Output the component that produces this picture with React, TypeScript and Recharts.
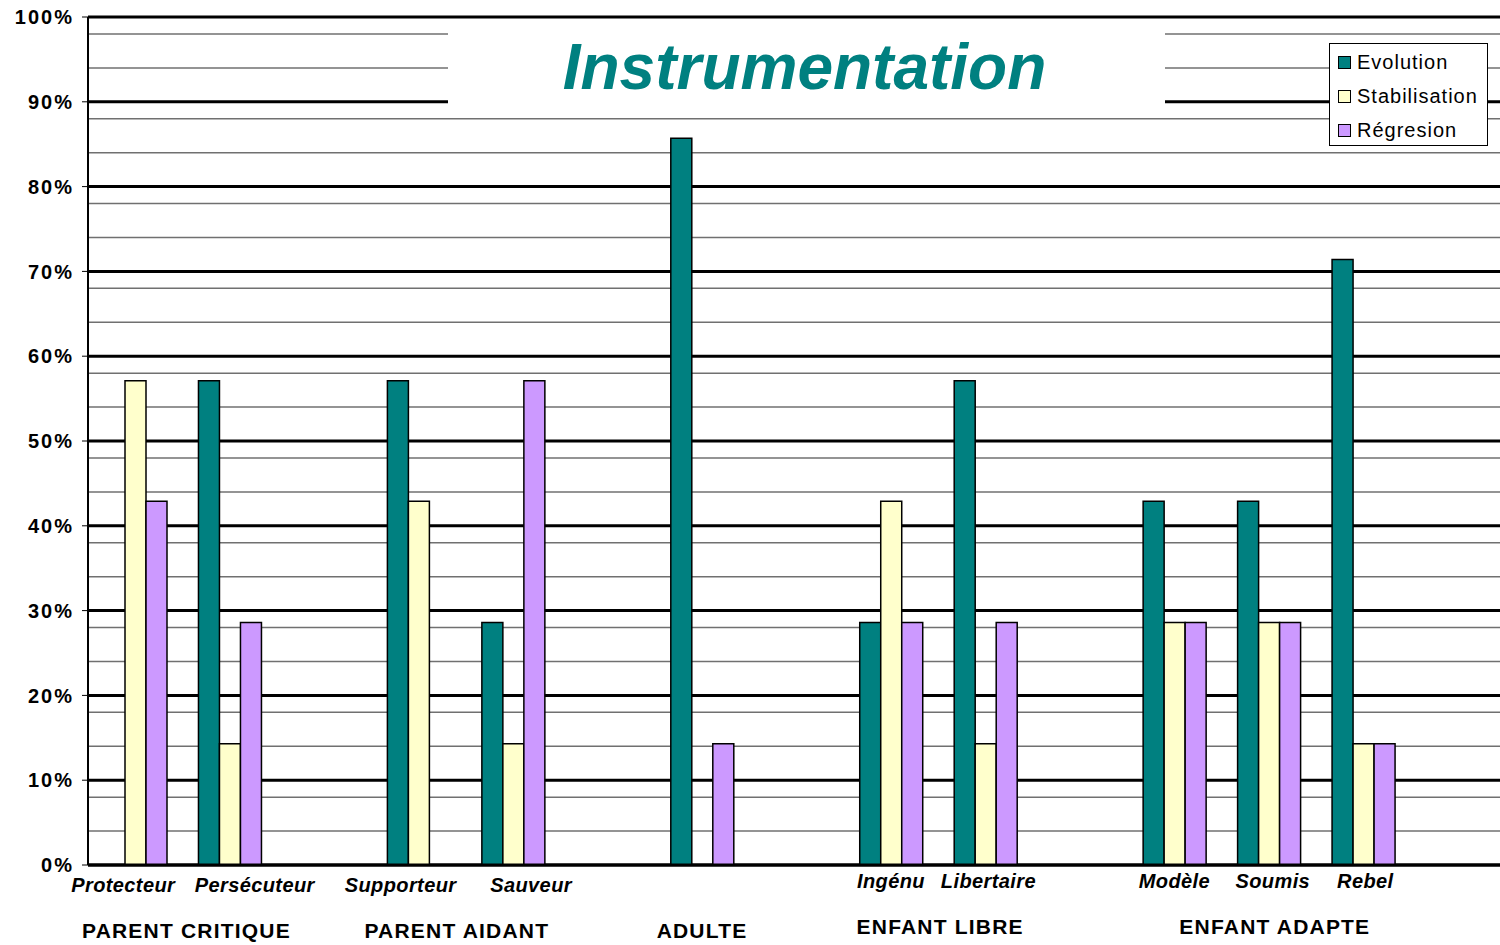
import { BarChart, Bar, XAxis, YAxis, CartesianGrid, Legend } from "recharts";

const categories = [
  "Protecteur", "Persécuteur", "", "Supporteur", "Sauveur", "", "", "",
  "Ingénu", "Libertaire", "", "Modèle", "Soumis", "Rebel", "",
];
const evolution = [0, 57.1, null, 57.1, 28.6, null, 85.7, null, 28.6, 57.1, null, 42.9, 42.9, 71.4, null];
const stabilisation = [57.1, 14.3, null, 42.9, 14.3, null, 0, null, 42.9, 14.3, null, 28.6, 28.6, 14.3, null];
const regression = [42.9, 28.6, null, 0, 57.1, null, 14.3, null, 28.6, 28.6, null, 28.6, 28.6, 14.3, null];

const groups = [
  { label: "PARENT CRITIQUE", first: 0, last: 1 },
  { label: "PARENT AIDANT", first: 3, last: 4 },
  { label: "ADULTE", first: 6, last: 6 },
  { label: "ENFANT LIBRE", first: 8, last: 9 },
  { label: "ENFANT ADAPTE", first: 11, last: 13 },
];

const majorTicks = [0, 10, 20, 30, 40, 50, 60, 70, 80, 90, 100];
const minorTicks = [
  2, 4, 6, 8, 12, 14, 16, 18, 22, 24, 26, 28, 32, 34, 36, 38, 42, 44, 46, 48,
  52, 54, 56, 58, 62, 64, 66, 68, 72, 74, 76, 78, 82, 84, 86, 88, 92, 94, 96, 98,
];

const series = [
  { key: "evolution", name: "Evolution", color: "#008080" },
  { key: "stabilisation", name: "Stabilisation", color: "#FFFFCC" },
  { key: "regression", name: "Régresion", color: "#CC99FF" },
];

const data = categories.map((name, i) => ({
  name,
  evolution: evolution[i],
  stabilisation: stabilisation[i],
  regression: regression[i],
}));

const FONT = '"Liberation Sans", Arial, sans-serif';
const PLOT_LEFT = 88;
const PLOT_RIGHT_MARGIN = -5;
const SLOT = (1500 - PLOT_LEFT - PLOT_RIGHT_MARGIN) / categories.length;

// Excel nudged the crowded labels apart; reproduce those offsets
const labelNudge: Record<string, number> = {
  Protecteur: -12,
  "Persécuteur": 25,
  Supporteur: -18,
  Sauveur: 18,
  Libertaire: 3,
  Soumis: 4,
  Rebel: 2,
};
const groupNudge: Record<string, number> = {
  "PARENT CRITIQUE": 4,
  "PARENT AIDANT": -9,
  "ENFANT LIBRE": 2,
  "ENFANT ADAPTE": 6,
};

function CategoryTick(props: any) {
  const { x, y, index, payload } = props;
  const late = index >= 8;
  const group = groups.find((g) => g.first === index);
  return (
    <g>
      {payload.value ? (
        <text
          x={x + (labelNudge[payload.value] || 0)}
          y={y + (late ? 23 : 27)}
          textAnchor="middle"
          fontFamily={FONT}
          fontSize={20}
          fontWeight="bold"
          fontStyle="italic"
          letterSpacing={0.4}
          fill="#000"
        >
          {payload.value}
        </text>
      ) : null}
      {group ? (
        <text
          x={x + ((group.last - group.first) * SLOT) / 2 + (groupNudge[group.label] || 0)}
          y={y + (late ? 69 : 73)}
          textAnchor="middle"
          fontFamily={FONT}
          fontSize={21}
          fontWeight="bold"
          letterSpacing={1.2}
          fill="#000"
        >
          {group.label}
        </text>
      ) : null}
    </g>
  );
}

function LegendBox() {
  return (
    <div
      style={{
        width: 157,
        height: 100,
        border: "1px solid #000",
        background: "#fff",
        boxSizing: "content-box",
        fontFamily: FONT,
        fontSize: 20,
        letterSpacing: 1,
        paddingTop: 1,
      }}
    >
      {series.map((s) => (
        <div key={s.key} style={{ display: "flex", alignItems: "center", height: 34, paddingLeft: 8 }}>
          <span
            style={{
              display: "inline-block",
              width: 11,
              height: 11,
              background: s.color,
              border: "1.5px solid #000",
              marginRight: 6,
            }}
          />
          <span>{s.name}</span>
        </div>
      ))}
    </div>
  );
}

export default function App() {
  return (
    <div style={{ position: "absolute", left: 0, top: 0, width: 1500, height: 945, background: "#fff" }}>
      <BarChart
        width={1500}
        height={945}
        data={data}
        margin={{ top: 17, right: PLOT_RIGHT_MARGIN, left: 0, bottom: 0 }}
        barGap={0}
        barSize={21}
      >
        <CartesianGrid horizontal vertical={false} horizontalValues={minorTicks} stroke="#707070" strokeWidth={1.5} />
        <CartesianGrid horizontal vertical={false} horizontalValues={majorTicks} stroke="#000" strokeWidth={3} />
        <XAxis
          dataKey="name"
          interval={0}
          height={80}
          tickLine={false}
          tickSize={0}
          tickMargin={0}
          axisLine={{ stroke: "#000", strokeWidth: 3 }}
          tick={<CategoryTick />}
        />
        <YAxis
          width={PLOT_LEFT}
          domain={[0, 100]}
          ticks={majorTicks}
          tickFormatter={(v: number) => `${v}%`}
          axisLine={{ stroke: "#000", strokeWidth: 2 }}
          tickLine={{ stroke: "#000" }}
          tickSize={6}
          tickMargin={8}
          tick={{ fill: "#000", fontFamily: FONT, fontSize: 20, fontWeight: "bold", letterSpacing: 2 }}
        />
        <Legend
          layout="vertical"
          align="center"
          verticalAlign="middle"
          content={() => <LegendBox />}
          wrapperStyle={{ position: "absolute", left: 1329, top: 43, width: 159, height: 102 }}
        />
        {series.map((s) => (
          <Bar
            key={s.key}
            dataKey={s.key}
            name={s.name}
            fill={s.color}
            stroke="#000"
            strokeWidth={1.5}
            isAnimationActive={false}
          />
        ))}
      </BarChart>
      <div
        style={{
          position: "absolute",
          left: 448,
          top: 23,
          width: 717,
          height: 88,
          background: "#fff",
          display: "flex",
          alignItems: "center",
          justifyContent: "center",
          fontFamily: FONT,
          fontSize: 64,
          fontWeight: "bold",
          fontStyle: "italic",
          color: "#008080",
          paddingRight: 4,
          boxSizing: "border-box",
        }}
      >
        Instrumentation
      </div>
    </div>
  );
}
